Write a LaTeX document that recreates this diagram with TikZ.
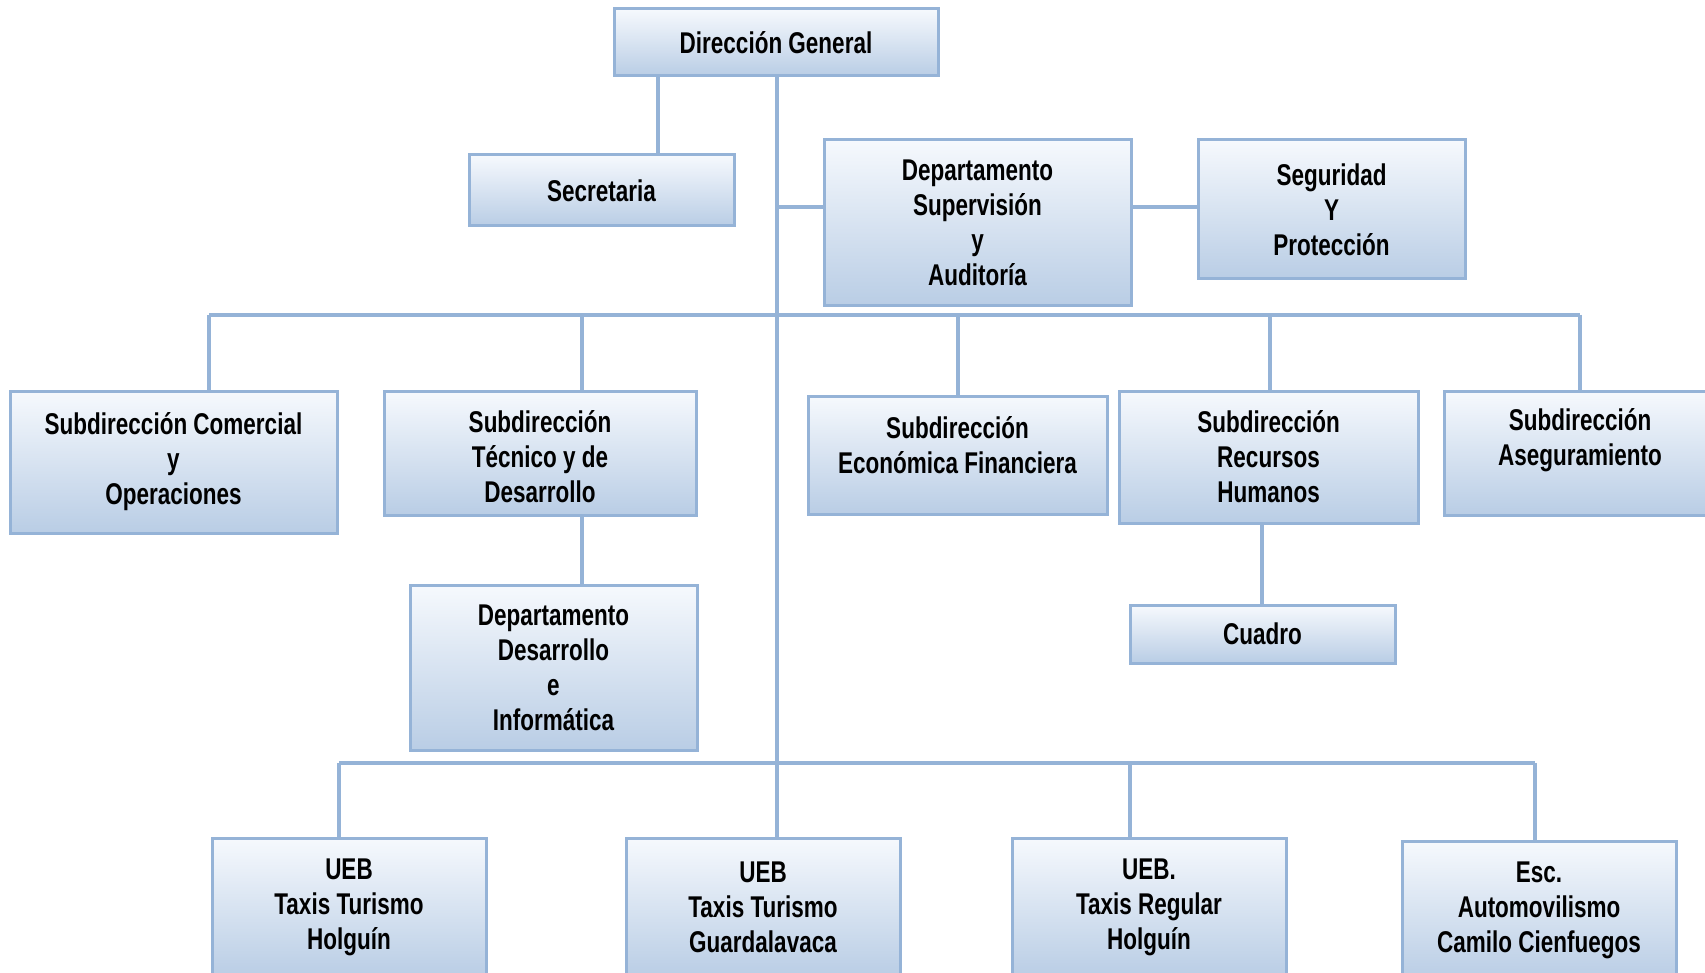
\documentclass[tikz,border=0pt]{standalone}
\usepackage{fontspec}
\setmainfont{Liberation Sans}[FakeStretch=0.75]
\usetikzlibrary{calc}
\definecolor{bord}{RGB}{149,179,215}
\definecolor{fillbot}{RGB}{185,205,229}
\definecolor{filltop}{RGB}{246,249,253}
\begin{document}
\begin{tikzpicture}[x=1pt,y=-1pt,
  box/.style={draw=bord, line width=3pt, top color=filltop, bottom color=fillbot,
    inner sep=0pt, align=center, font=\fontsize{30}{35}\selectfont\bfseries},
  lbl/.style={align=center, font=\fontsize{30}{35}\selectfont\bfseries},
  conn/.style={draw=bord, line width=3.2pt}]
\clip (0,0) rectangle (1705,973);
\fill[white] (0,0) rectangle (1705,973);
% coordinates for connector routes
\coordinate (secx) at (658,0);
\coordinate (j1) at (777,207);
\coordinate (busL) at (209,315);
\coordinate (busR) at (1580,315);
\coordinate (bus2L) at (339,763);
\coordinate (bus2R) at (1535,763);
\coordinate (x1) at (209,0);
\coordinate (x2) at (582,0);
\coordinate (x3) at (958,0);
\coordinate (x4) at (1270,0);
\coordinate (x5) at (1580,0);
\coordinate (x6) at (1262,0);
\coordinate (y1) at (339,0);
\coordinate (y3) at (1130,0);
\coordinate (y4) at (1535,0);
% boxes
\node[box, minimum width=324pt, minimum height=67pt] (dg) at (776,42.5) {Dirección General};
\node[box, minimum width=265pt, minimum height=71pt] (sec) at (601.5,190.5) {Secretaria};
\node[box, minimum width=307pt, minimum height=166pt] (sup) at (977.5,223) {Departamento\\Supervisión\\y\\Auditoría};
\node[box, minimum width=267pt, minimum height=139pt] (seg) at (1331.5,209.5) {Seguridad\\Y\\Protección};
\node[box, minimum width=327pt, minimum height=142pt] (sc) at (173.5,462) {Subdirección Comercial\\y\\Operaciones};
\node[box, minimum width=312pt, minimum height=124pt,
  label={[lbl, yshift=-4pt]center:Subdirección\\Técnico y de\\Desarrollo}] (tec) at (540,453) {};
\node[box, minimum width=299pt, minimum height=118pt,
  label={[lbl, yshift=10pt]center:Subdirección\\Económica Financiera}] (eco) at (957.5,455) {};
\node[box, minimum width=299pt, minimum height=132pt] (rh) at (1268.5,457) {Subdirección\\Recursos\\Humanos};
\node[box, minimum width=272pt, minimum height=124pt,
  label={[lbl, yshift=13pt]center:Subdirección\\Aseguramiento}] (ase) at (1580,453) {};
\node[box, minimum width=287pt, minimum height=165pt] (dd) at (553.5,667.5) {Departamento\\Desarrollo\\e\\Informática};
\node[box, minimum width=265pt, minimum height=58pt] (cu) at (1262.5,634) {Cuadro};
\node[box, minimum width=274pt, minimum height=139pt] (u1) at (349,907.5) {UEB\\Taxis Turismo\\Holguín};
\node[box, minimum width=274pt, minimum height=139pt] (u2) at (763,907.5) {UEB\\Taxis Turismo\\Guardalavaca};
\node[box, minimum width=274pt, minimum height=139pt] (u3) at (1149,907.5) {UEB.\\Taxis Regular\\Holguín};
\node[box, minimum width=274pt, minimum height=139pt] (u4) at (1539,910.5) {Esc.\\Automovilismo\\Camilo Cienfuegos};
% connectors
\draw[conn] (dg.south -| secx) -- (sec.north -| secx);
\draw[conn] (dg.south -| j1) -- (u2.north -| j1);
\draw[conn] (j1) -- (j1 -| sup.west);
\draw[conn] (sup.east |- j1) -- (seg.west |- j1);
\draw[conn] (busL) -- (busR);
\draw[conn] (busL) -- (sc.north -| x1);
\draw[conn] (busL -| x2) -- (tec.north -| x2);
\draw[conn] (busL -| x3) -- (eco.north -| x3);
\draw[conn] (busL -| x4) -- (rh.north -| x4);
\draw[conn] (busR) -- (ase.north -| x5);
\draw[conn] (tec.south -| x2) -- (dd.north -| x2);
\draw[conn] (rh.south -| x6) -- (cu.north -| x6);
\draw[conn] (bus2L) -- (bus2R);
\draw[conn] (bus2L) -- (u1.north -| y1);
\draw[conn] (bus2L -| y3) -- (u3.north -| y3);
\draw[conn] (bus2R) -- (u4.north -| y4);
\end{tikzpicture}
\end{document}
